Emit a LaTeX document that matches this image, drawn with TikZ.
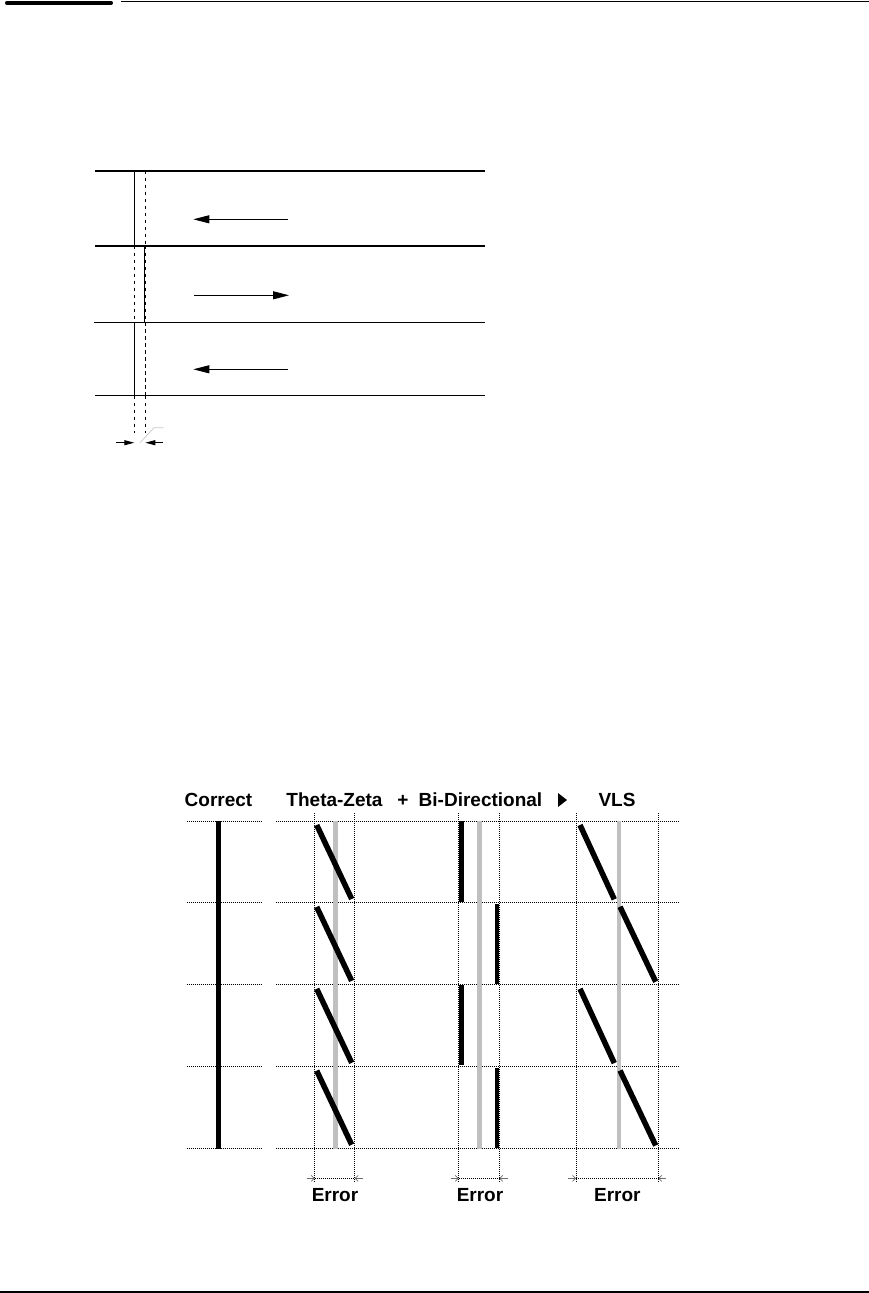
\documentclass[tikz,border=0pt]{standalone}
\usepackage{fontspec}
\setmainfont{Liberation Sans}
\usetikzlibrary{arrows.meta, positioning, shapes.geometric}
\definecolor{GuideGray}{RGB}{192,192,192}
\definecolor{TipGray}{RGB}{110,110,110}
\definecolor{LeadGray}{RGB}{200,200,200}

\begin{document}
\begin{tikzpicture}[x=1pt, y=-1pt,
  every node/.style={font=\fontsize{19}{22}\selectfont\bfseries, inner sep=0pt},
  lane/.style={line width=2pt},
  thinlane/.style={line width=1.2pt},
  track/.style={line width=0.9pt},
  trackdash/.style={line width=0.9pt, dash pattern=on 3.5pt off 3.5pt},
  move/.style={-{Triangle[length=16pt, width=8pt]}, line width=0.9pt},
  gaparrow/.style={-{Triangle[length=10pt, width=5pt]}, line width=0.9pt},
  gridline/.style={line width=1pt, dash pattern=on 1pt off 1pt},
  ghost/.style={draw=GuideGray, line width=4.8pt},
  stroke/.style={line width=5.5pt},
  dim/.style={-{Straight Barb[length=3pt, width=6pt]}, draw=TipGray, line width=0.7pt}
]
\useasboundingbox (0,0) rectangle (869,1293);

% page rules
\draw[line width=4pt, line cap=round] (7,2.8) -- (111,2.8);
\draw[line width=1pt] (121,1.3) -- (869,1.3);
\draw[line width=1.5pt] (0,1292) -- (869,1292);

% upper sketch: three scan lines
\draw[lane] (95,170.7) -- (485,170.7);
\draw[lane] (95,245.7) -- (485,245.7);
\draw[thinlane] (94,322.3) -- (485,322.3);
\draw[thinlane] (95,395.7) -- (485,395.7);

\draw[track] (134.3,170.7) -- (134.3,245.7);
\draw[trackdash] (145.3,170.7) -- (145.3,245.7);
\draw[trackdash] (134.3,245.7) -- (134.3,322.3);
\draw[track] (144.6,245.7) -- (144.6,322.3);
\draw[trackdash] (145.4,245.7) -- (145.4,322.3);
\draw[track] (134.3,322.3) -- (134.3,395.7);
\draw[trackdash] (145.3,322.3) -- (145.3,395.7);
\draw[trackdash] (134.3,395.7) -- (134.3,433);
\draw[trackdash] (145.3,395.7) -- (145.3,433);

\coordinate (s1from) at (287.7,219.3);
\coordinate (s1to) at (193.3,219.3);
\coordinate (s2from) at (194,295.3);
\coordinate (s2to) at (289,295.3);
\coordinate (s3from) at (287.7,369.3);
\coordinate (s3to) at (193.3,369.3);
\draw[move] (s1from) -- (s1to);
\draw[move] (s2from) -- (s2to);
\draw[move] (s3from) -- (s3to);

\coordinate (gapL) at (116,442.7);
\coordinate (gapA) at (134.3,442.7);
\coordinate (gapR) at (162.7,442.7);
\coordinate (gapB) at (145.3,442.7);
\draw[gaparrow] (gapL) -- (gapA);
\draw[gaparrow] (gapR) -- (gapB);
\draw[draw=LeadGray, line width=0.7pt] (140,442.7) -- (154,427.7) -- (163.3,427.7);

% lower sketch: headings
\node[anchor=base] (correct) at (218.5,806.5) {Correct};
\node[anchor=base] (thetazeta) at (334.5,806.5) {Theta-Zeta};
\node[anchor=base] (plus) at (403,806.5) {+};
\node[anchor=base] (bidir) at (480.5,806.5) {Bi-Directional};
\fill (558,793) -- (567,800) -- (558,807) -- cycle;
\node[anchor=base] (vls) at (617,806.5) {VLS};

% grid
\foreach \y in {821,902.9,984.8,1066.7,1148.5} {
  \draw[gridline] (186.7,\y) -- (262.3,\y);
  \draw[gridline] (275.7,\y) -- (679.3,\y);
}
\foreach \x in {314.7,354.7,458.7,499.3,576,658.3}
  \draw[gridline] (\x,813.3) -- (\x,1183);

% reference positions
\draw[ghost] (335.3,821) -- (335.3,1148.5);
\draw[ghost] (479.3,821) -- (479.3,1148.5);
\draw[ghost, line width=4pt] (619,821) -- (619,1148.5);

% correct
\draw[line width=4.5pt] (218.3,821) -- (218.3,1148.5);

% theta-zeta
\foreach \y in {821,902.9,984.8,1066.7}
  \draw[stroke] (316.7,\y+4) -- (351.7,\y+78);

% bi-directional
\foreach \y in {821,984.8}
  \draw[line width=4.5pt] (461.3,\y) -- (461.3,\y+80.5);
\foreach \y in {902.9,1066.7}
  \draw[line width=4pt] (496.7,\y+1.5) -- (496.7,\y+81);

% vls
\foreach \y in {821,984.8} {
  \draw[stroke] (580,\y+4) -- (614.3,\y+78.3);
  \draw[stroke] (620,\y+85.7) -- (655.7,\y+160.7);
}

% error spans
\coordinate (e1a) at (306.7,1178.3);
\coordinate (e1b) at (314.7,1178.3);
\coordinate (e1c) at (354.7,1178.3);
\coordinate (e1d) at (363.3,1178.3);
\coordinate (e2a) at (450.7,1178.3);
\coordinate (e2b) at (458.7,1178.3);
\coordinate (e2c) at (499.3,1178.3);
\coordinate (e2d) at (508.3,1178.3);
\coordinate (e3a) at (568.3,1178.3);
\coordinate (e3b) at (576,1178.3);
\coordinate (e3c) at (658.3,1178.3);
\coordinate (e3d) at (666,1178.3);
\draw[dim] (e1a) -- (e1b);
\draw[dim] (e1d) -- (e1c);
\draw[gridline] (e1b) -- (e1c);
\draw[dim] (e2a) -- (e2b);
\draw[dim] (e2d) -- (e2c);
\draw[gridline] (e2b) -- (e2c);
\draw[dim] (e3a) -- (e3b);
\draw[dim] (e3d) -- (e3c);
\draw[gridline] (e3b) -- (e3c);

\node[anchor=base] (err1) at (335,1201.5) {Error};
\node[anchor=base] (err2) at (480,1201.5) {Error};
\node[anchor=base] (err3) at (617.3,1201.5) {Error};
\end{tikzpicture}
\end{document}
